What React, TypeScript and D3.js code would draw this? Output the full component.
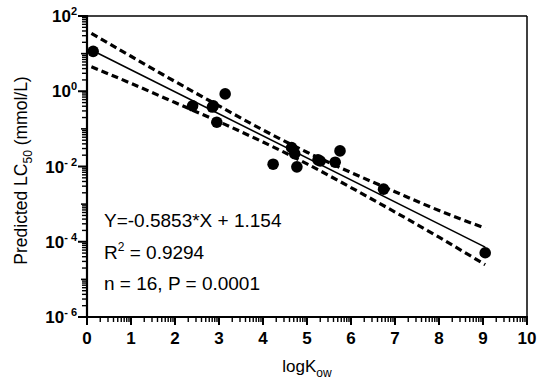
import React from 'react';
import * as d3 from 'd3';

// Data
const xValues = [0.14, 2.4, 2.87, 2.95, 3.14, 4.23, 4.65, 4.72, 4.77, 5.3, 5.64, 5.75, 6.74, 9.05, 2.85, 5.25];
const yValues = [11.5, 0.41, 0.41, 0.15, 0.85, 0.0115, 0.032, 0.022, 0.0098, 0.014, 0.013, 0.026, 0.0025, 0.000051, 0.38, 0.015];
const xTickValues = [0, 1, 2, 3, 4, 5, 6, 7, 8, 9, 10];
const yTickExponents = [2, 0, -2, -4, -6];
const slope = -0.5853;
const intercept = 1.154;
const lineRange = [0.1, 9.05];
const bandX = [0.1, 1, 2, 3, 4, 5, 6, 7, 8, 9.05];
const bandUpperExp = [1.54, 0.93, 0.26, -0.39, -1.03, -1.62, -2.16, -2.67, -3.17, -3.64];
const bandLowerExp = [0.65, 0.21, -0.3, -0.81, -1.35, -1.93, -2.56, -3.21, -3.88, -4.61];
const annotations = ['Y=-0.5853*X + 1.154', 'R2', 'n = 16, P = 0.0001'];

const W = 542;
const H = 387;
const L = 87, R = 527, T = 16, B = 317;

export default function App() {
  const x = d3.scaleLinear().domain([0, 10]).range([L, R]);
  const y = d3.scaleLog().domain([1e-6, 1e2]).range([B, T]);

  const lineGen = d3.line<[number, number]>().x(d => x(d[0])).y(d => y(d[1]));
  const bandGen = d3.line<[number, number]>().x(d => x(d[0])).y(d => y(d[1])).curve(d3.curveNatural);

  const regPts: [number, number][] = lineRange.map(v => [v, Math.pow(10, intercept + slope * v)]);
  const upper: [number, number][] = bandX.map((v, i) => [v, Math.pow(10, bandUpperExp[i])]);
  const lower: [number, number][] = bandX.map((v, i) => [v, Math.pow(10, bandLowerExp[i])]);

  const yMinor: number[] = [];
  for (let e = -6; e < 2; e++) for (let k = 2; k <= 9; k++) yMinor.push(k * Math.pow(10, e));
  const yMid: number[] = [];
  for (let e = -5; e < 2; e += 2) yMid.push(Math.pow(10, e));
  const xMinor: number[] = [];
  for (let i = 0; i < 10; i++) for (let k = 2; k <= 9; k++) xMinor.push(i + Math.log10(k));

  const font = 'Liberation Sans, Arial, sans-serif';

  return (
    <svg width={W} height={H} style={{ position: 'absolute', left: 0, top: 0, background: '#fff' }} fontFamily={font}>
      {/* frame */}
      <line x1={L} x2={R} y1={T} y2={T} stroke="#000" strokeWidth={1.5} />
      <line x1={R} x2={R} y1={T} y2={B} stroke="#000" strokeWidth={1.5} />
      {/* confidence bands */}
      <path d={bandGen(upper) || ''} fill="none" stroke="#000" strokeWidth={3.2} strokeDasharray="7,4" />
      <path d={bandGen(lower) || ''} fill="none" stroke="#000" strokeWidth={3.2} strokeDasharray="7,4" />
      {/* regression */}
      <path d={lineGen(regPts) || ''} fill="none" stroke="#000" strokeWidth={1.6} />
      {/* points */}
      {xValues.map((v, i) => (
        <circle key={i} cx={x(v)} cy={y(yValues[i])} r={5.8} fill="#000" />
      ))}
      {/* axes */}
      <line x1={L} x2={L} y1={T - 1} y2={B + 1} stroke="#000" strokeWidth={2.2} />
      <line x1={L - 1} x2={R + 1} y1={B} y2={B} stroke="#000" strokeWidth={2.2} />
      {yMinor.map((v, i) => (
        <line key={'ym' + i} x1={L - 5} x2={L} y1={y(v)} y2={y(v)} stroke="#000" strokeWidth={1.4} />
      ))}
      {yMid.map((v, i) => (
        <line key={'yd' + i} x1={L - 6} x2={L} y1={y(v)} y2={y(v)} stroke="#000" strokeWidth={1.6} />
      ))}
      {yTickExponents.map(e => (
        <g key={'yt' + e}>
          <line x1={L - 9} x2={L} y1={y(Math.pow(10, e))} y2={y(Math.pow(10, e))} stroke="#000" strokeWidth={2} />
          <text x={L - 10} y={y(Math.pow(10, e)) + 6} textAnchor="end" fontSize={17} fontWeight="bold">
            10<tspan dy={-7} fontSize={11}>{e < 0 ? '- ' + Math.abs(e) : String(e)}</tspan>
          </text>
        </g>
      ))}
      {xMinor.map((v, i) => (
        <line key={'xm' + i} x1={x(v)} x2={x(v)} y1={B} y2={B + 5} stroke="#000" strokeWidth={1.4} />
      ))}
      {xTickValues.map(v => (
        <g key={'xt' + v}>
          <line x1={x(v)} x2={x(v)} y1={B} y2={B + 8} stroke="#000" strokeWidth={2} />
          <text x={x(v)} y={B + 27} textAnchor="middle" fontSize={17} fontWeight="bold">{v}</text>
        </g>
      ))}
      {/* axis titles */}
      <text x={307} y={372} textAnchor="middle" fontSize={17}>
        logK<tspan dy={5} fontSize={12}>ow</tspan>
      </text>
      <text transform={`translate(27,${(T + B) / 2 + 4}) rotate(-90)`} textAnchor="middle" fontSize={17.5}>
        Predicted LC<tspan dy={5} fontSize={12}>50</tspan><tspan dy={-5}> (mmol/L)</tspan>
      </text>
      {/* annotations */}
      <text x={104} y={227} fontSize={19}>{annotations[0]}</text>
      <text x={104} y={259} fontSize={19}>
        R<tspan dy={-8} fontSize={12}>2</tspan><tspan dy={8}> = 0.9294</tspan>
      </text>
      <text x={104} y={290} fontSize={19}>{annotations[2]}</text>
    </svg>
  );
}
